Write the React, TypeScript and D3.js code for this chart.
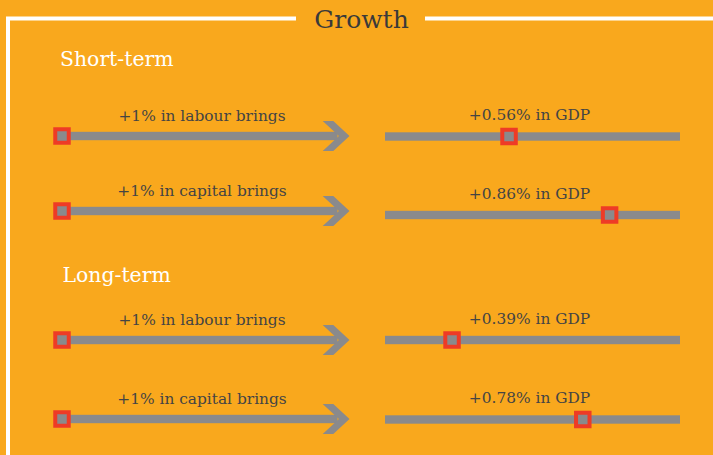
import React from "react";
import * as d3 from "d3";

// ---- data ----
const title = "Growth";
const periods = ["Short-term", "Long-term"];
const factors = ["labour", "capital"];
const shortTermGdp = [0.56, 0.86];
const longTermGdp = [0.39, 0.78];
const gdpByPeriod = [shortTermGdp, longTermGdp];
const inputIncrease = 1; // +1%

// ---- layout ----
const W = 713;
const H = 455;
const ORANGE = "#F9A81D";
const GREY = "#8A8A8C";
const RED = "#EE3B26";
const TEXT = "#444444";
const FONT = "'DejaVu Serif', serif";

type Row = { id: string; period: number; factor: string; gdp: number };
const rows: Row[] = [];
periods.forEach((p, pi) =>
  factors.forEach((f, fi) =>
    rows.push({ id: `${pi}-${fi}`, period: pi, factor: f, gdp: gdpByPeriod[pi][fi] })
  )
);

const rowY = d3.scaleOrdinal<string, number>().domain(rows.map((r) => r.id)).range([136, 211, 340, 419]);
const rightDy = d3.scaleOrdinal<string, number>().domain(rows.map((r) => r.id)).range([0.5, 4, 0, 0.5]);
const headingY = d3.scaleOrdinal<string, number>().domain(periods).range([66, 282]);
const headingX = d3.scaleOrdinal<string, number>().domain(periods).range([60, 62.5]);

const barX0 = 385;
const barX1 = 680;
const gdpX = d3.scaleLinear().domain([0.19, 1.07]).range([barX0, barX1]);

const leftStart = 62;
const arrowTip = 349.5;
const barH = 8.4;
const markerSize = 13.5;

function Marker({ cx, cy }: { cx: number; cy: number }) {
  return (
    <rect
      x={cx - markerSize / 2}
      y={cy - markerSize / 2}
      width={markerSize}
      height={markerSize}
      fill={GREY}
      stroke={RED}
      strokeWidth={4}
    />
  );
}

function Arrow({ y }: { y: number }) {
  const headBack = arrowTip - 26.8;
  const thick = 10.6;
  const half = 15;
  const d = [
    [headBack, y - half],
    [headBack + thick, y - half],
    [arrowTip, y],
    [headBack + thick, y + half],
    [headBack, y + half],
    [arrowTip - thick, y],
  ];
  return (
    <g>
      <rect x={leftStart} y={y - barH / 2} width={arrowTip - 12 - leftStart} height={barH} fill={GREY} />
      <path d={d3.line()(d as [number, number][]) + "Z"} fill={GREY} />
    </g>
  );
}

export default function App() {
  const titleX = 361.5;
  const gapL = 296;
  const gapR = 425;
  const frameX = 8;
  const frameY = 18.5;
  return (
    <svg
      width={W}
      height={H}
      viewBox={`0 0 ${W} ${H}`}
      style={{ position: "absolute", left: 0, top: 0, display: "block" }}
    >
      <rect x={0} y={0} width={W} height={H} fill={ORANGE} />
      {/* frame */}
      <path
        d={`M${gapL},${frameY} L${frameX},${frameY} L${frameX},${H + 5}`}
        fill="none"
        stroke="#FFFFFF"
        strokeWidth={4}
      />
      <path d={`M${gapR},${frameY} L${W + 5},${frameY}`} fill="none" stroke="#FFFFFF" strokeWidth={4} />
      <text x={titleX} y={28} textAnchor="middle" fontFamily={FONT} fontSize={25} fill="#3A3A3A">
        {title}
      </text>

      {periods.map((p) => (
        <text key={p} x={headingX(p)} y={headingY(p)} fontFamily={FONT} fontSize={20.4} fill="#FFFFFF">
          {p}
        </text>
      ))}

      {rows.map((r) => {
        const y = rowY(r.id);
        const yr = y + rightDy(r.id);
        return (
          <g key={r.id}>
            <text x={202} y={y - 15.5} textAnchor="middle" fontFamily={FONT} fontSize={15.4} fill={TEXT}>
              {`+${inputIncrease}% in ${r.factor} brings`}
            </text>
            <Arrow y={y} />
            <Marker cx={leftStart} cy={y} />

            <text
              x={(barX0 + barX1) / 2 - 3}
              y={yr - 16.5}
              textAnchor="middle"
              fontFamily={FONT}
              fontSize={15.4}
              fill={TEXT}
            >
              {`+${r.gdp.toFixed(2)}% in GDP`}
            </text>
            <rect x={barX0} y={yr - barH / 2} width={barX1 - barX0} height={barH} fill={GREY} />
            <Marker cx={gdpX(r.gdp)} cy={yr} />
          </g>
        );
      })}
    </svg>
  );
}
